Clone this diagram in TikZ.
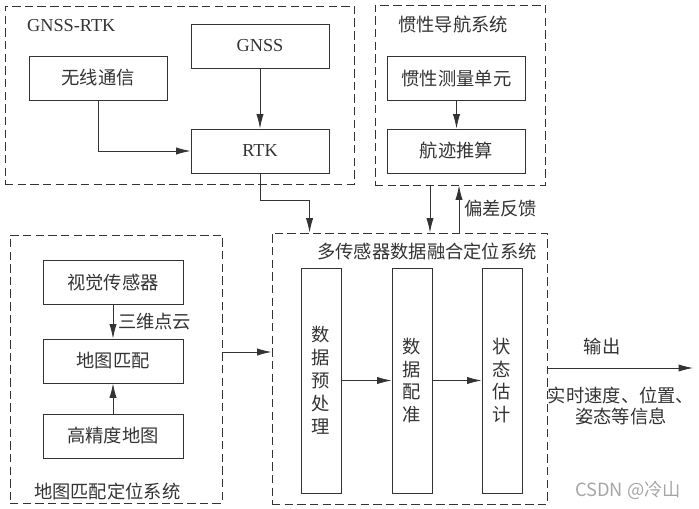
\documentclass[tikz,border=0pt]{standalone}
\usepackage{fontspec}
\setmainfont{Noto Sans CJK SC}
\newfontfamily\tnr{Liberation Serif}
\usepackage{xcolor}
\usetikzlibrary{calc,arrows.meta}
\definecolor{ink}{HTML}{333333}

\begin{document}
\begin{tikzpicture}[x=0.025cm, y=-0.025cm, color=ink, line width=0.6pt,
    font=\fontsize{13}{16.3}\selectfont,
    box/.style={draw, minimum width=3.45cm, minimum height=1.1cm, inner sep=0pt},
    colbox/.style={draw, minimum width=1cm, minimum height=5.625cm, align=center, inner sep=0pt},
    group/.style={draw, dash pattern=on 6pt off 3pt, inner sep=0pt},
    latin/.style={font=\tnr\fontsize{13}{16.3}\selectfont},
    arr/.style={-{Latex[length=3.6mm,width=1.8mm]}}]
    \useasboundingbox (0,0) rectangle (699,508);

    \node[group, minimum width=8.725cm, minimum height=4.45cm] (gnssrtk) at (179.5,95) {};
    \node[group, minimum width=4.25cm, minimum height=4.5cm] (insys) at (460,95) {};
    \node[group, minimum width=5.3cm, minimum height=6.7cm] (mapsys) at (116,369) {};
    \node[group, minimum width=6.875cm, minimum height=6.775cm] (fusion) at (409.5,368.5) {};

    \node[latin, anchor=west] (gnsslbl) at (22,26) {GNSS-RTK};
    \node (inslbl) at (453,25) {惯性导航系统};
    \node[anchor=west] (maplbl) at (29,492) {地图匹配定位系统};
    \node (fuslbl) at (427,252) {多传感器数据融合定位系统};

    \node[box, latin] (gnss) at (260,46) {GNSS};
    \node[box] (wx) at (98,78) {无线通信};
    \node[box, latin] (rtk) at (260,151) {RTK};
    \node[box] (imu) at (456.5,78.5) {惯性测量单元};
    \node[box] (dr) at (456.5,151) {航迹推算};
    \node[box, minimum width=3.5cm] (cam) at (113,282.5) {视觉传感器};
    \node[box, minimum width=3.5cm] (mm) at (113,361) {地图匹配};
    \node[box, minimum width=3.5cm] (hdmap) at (113,436) {高精度地图};
    \node[colbox] (pre) at (321,380.5) {数\\据\\预\\处\\理};
    \node[colbox] (reg) at (412,380.5) {数\\据\\配\\准};
    \node[colbox] (est) at (502,380.5) {状\\态\\估\\计};

    \draw[arr] (gnss) -- (rtk);
    \draw[arr] (wx.south) |- (rtk.west);
    \draw[arr] (imu) -- (dr);
    \draw[arr] (rtk.south) -- ++(0,27) -| ($(fusion.north west)+(38,0)$);
    \coordinate (dn) at (430,0);
    \coordinate (up) at (459,0);
    \draw[arr] (insys.south -| dn) -- (fusion.north -| dn);
    \draw[arr] (fusion.north -| up) -- (insys.south -| up) node[midway, right] (fblbl) {偏差反馈};

    \draw[arr] (cam) -- (mm) node[midway, right] (ptlbl) {三维点云};
    \draw[arr] (hdmap) -- (mm);
    \coordinate (m2f) at (222,352);
    \draw[arr] (mapsys.east |- m2f) -- (fusion.west |- m2f);

    \draw[arr] (pre) -- (reg);
    \draw[arr] (reg) -- (est);

    \coordinate (outend) at (693,368);
    \draw[arr] (fusion.east |- outend) -- (outend);
    \node (outlbl) at (602,347) {输出};
    \node[align=center, font=\fontsize{13}{15.6}\selectfont] (outinfo) at (621,406) {实时速度、位置、\\姿态等信息};
    \node[text=gray!70] (mark) at (628,490) {CSDN @冷山};
\end{tikzpicture}
\end{document}
